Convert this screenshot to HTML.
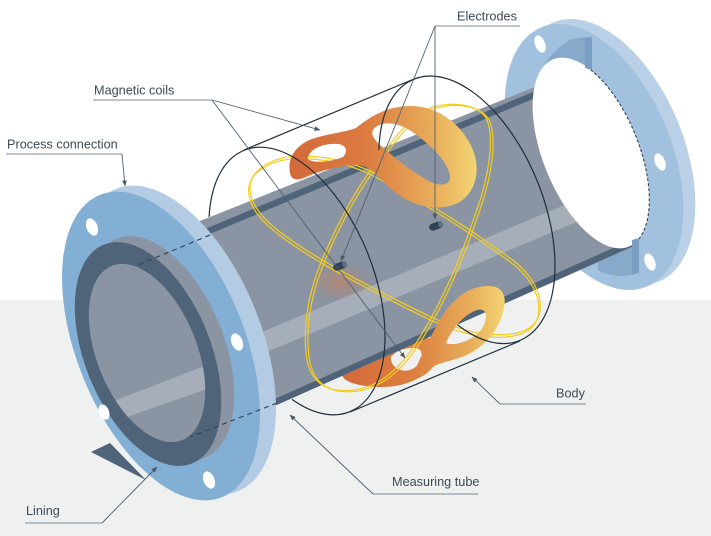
<!DOCTYPE html>
<html>
<head>
<meta charset="utf-8">
<style>
html,body{margin:0;padding:0;background:#fff;}
svg{display:block;}
text{font-family:"Liberation Sans",Arial,sans-serif;font-size:12.7px;fill:#3b4a58;}
</style>
</head>
<body>
<svg width="711" height="536" viewBox="0 0 711 536" xmlns="http://www.w3.org/2000/svg">
<defs>
  <linearGradient id="gU" gradientUnits="userSpaceOnUse" x1="290" y1="0" x2="478" y2="0">
    <stop offset="0" stop-color="#d4693a"/>
    <stop offset="0.4" stop-color="#db7b40"/>
    <stop offset="0.75" stop-color="#e8ab5a"/>
    <stop offset="1" stop-color="#f4d674"/>
  </linearGradient>
  <linearGradient id="gL" gradientUnits="userSpaceOnUse" x1="342" y1="0" x2="506" y2="0">
    <stop offset="0" stop-color="#d4693a"/>
    <stop offset="0.45" stop-color="#dc8040"/>
    <stop offset="0.8" stop-color="#e9b05c"/>
    <stop offset="1" stop-color="#f4d674"/>
  </linearGradient>
  <radialGradient id="glow" cx="0.5" cy="0.5" r="0.5">
    <stop offset="0" stop-color="#d9773f" stop-opacity="0.45"/>
    <stop offset="1" stop-color="#d9773f" stop-opacity="0"/>
  </radialGradient>
  <clipPath id="tubeClip">
    <path d="M120,253 L590,65 L590.6,69.7 A48,101 -22 0 1 639,238.7 L639,244 L180,448 Z"/>
  </clipPath>
  <clipPath id="innerClip">
    <ellipse cx="147" cy="353" rx="50" ry="94" transform="rotate(-22 147 353)"/>
  </clipPath>
  <marker id="ar" markerWidth="7" markerHeight="7" refX="5.5" refY="3" orient="auto" markerUnits="userSpaceOnUse">
    <path d="M0,0.6 L6,3 L0,5.4 Z" fill="#4a5a6a"/>
  </marker>
</defs>

<!-- background -->
<rect x="0" y="0" width="711" height="300" fill="#ffffff"/>
<rect x="0" y="300" width="711" height="236" fill="#eff1f1"/>

<!-- right flange -->
<ellipse cx="606" cy="152" rx="78" ry="140" transform="rotate(-22 606 152)" fill="#b9d0e6"/>
<ellipse cx="594" cy="157" rx="78" ry="140" transform="rotate(-22 594 157)" fill="#a2c1de"/>
<ellipse cx="540" cy="44" rx="5" ry="9" transform="rotate(-22 540 44)" fill="#ffffff"/>
<ellipse cx="660" cy="162" rx="5" ry="9" transform="rotate(-22 660 162)" fill="#ffffff"/>
<ellipse cx="650" cy="262" rx="5" ry="9" transform="rotate(-22 650 262)" fill="#ffffff"/>
<!-- bore surfaces -->
<path d="M530,112 C532,80 548,50 572,39 L586,37 L592,37 L592,72 L530,122 Z" fill="#87a9ca"/>
<path d="M596,238 L639,236 L639,273 C625,278 608,276 598,270 Z" fill="#87a9ca"/>

<!-- lower coil back lobe (behind tube) -->
<path fill="url(#gL)" fill-rule="evenodd" d="M342,372 C350,355 390,338 420,336 C435,336 440,350 433,364 C425,378 405,387 382,387 C360,387 340,382 342,372 Z M391,357 C396,350 410,346 419,349 C425,354 421,366 410,370 C400,373 390,366 391,357 Z"/>

<!-- measuring tube -->
<path d="M120,253 L590,65 L590.6,69.7 A48,101 -22 0 1 639,238.7 L639,244 L180,448 Z" fill="#8a94a3"/>
<g clip-path="url(#tubeClip)">
  <polygon points="150,379 660,165 660,187 150,401" fill="#a6aeb9"/>
  <polygon points="150,252 600,64 600,71 150,259" fill="#4f6478"/>
  <polygon points="150,454.6 650,231.6 650,238.6 150,461.6" fill="#4f6478"/>
  <ellipse cx="340" cy="282" rx="32" ry="20" fill="url(#glow)"/>
</g>
<!-- tube opening at right -->
<ellipse cx="591" cy="153" rx="48" ry="101" transform="rotate(-22 591 153)" fill="#ffffff"/>
<path d="M590.6,69.7 A48,101 -22 0 1 639,238.7" fill="none" stroke="#2f4254" stroke-width="1.1" stroke-dasharray="3,2"/>
<polygon points="585,38 592,37 592,70 585,68" fill="#7a9fc2"/>
<polygon points="632,240 639,238 639,272 632,274" fill="#7a9fc2"/>

<!-- left flange -->
<polygon points="91,452 110,443 146,480" fill="#4f6478"/>
<ellipse cx="177" cy="340" rx="84" ry="163" transform="rotate(-22 177 340)" fill="#b3cbe3"/>
<ellipse cx="161" cy="346" rx="84" ry="163" transform="rotate(-22 161 346)" fill="#84afd4"/>
<ellipse cx="92" cy="227" rx="5.5" ry="9" transform="rotate(-22 92 227)" fill="#ffffff"/>
<ellipse cx="237" cy="342" rx="5.5" ry="9" transform="rotate(-22 237 342)" fill="#ffffff"/>
<ellipse cx="209" cy="480" rx="5.5" ry="9" transform="rotate(-22 209 480)" fill="#ffffff"/>
<!-- lining -->
<ellipse cx="161" cy="348" rx="63" ry="118" transform="rotate(-22 161 348)" fill="#8a94a3"/>
<ellipse cx="148" cy="354" rx="63" ry="118" transform="rotate(-22 148 354)" fill="#4f6478"/>
<ellipse cx="104" cy="412" rx="5" ry="8" transform="rotate(-22 104 412)" fill="#ffffff"/>
<ellipse cx="147" cy="353" rx="50" ry="94" transform="rotate(-22 147 353)" fill="#8a94a3"/>
<g clip-path="url(#innerClip)">
  <polygon points="85,412 215,362 215,386 85,432" fill="#a6aeb9"/>
</g>
<!-- hidden tube edges -->
<line x1="210" y1="235" x2="138" y2="265" stroke="#2f4254" stroke-width="1.1" stroke-dasharray="5,4"/>
<line x1="277" y1="403" x2="190" y2="437" stroke="#2f4254" stroke-width="1.1" stroke-dasharray="5,4"/>

<!-- yellow wire loops -->
<g fill="none" stroke="#f5cc1e" stroke-width="1.2">
  <path d="M250,186 C252,168 275,155 305,156 C335,157 360,165 380,176 C420,198 470,228 515,262 C535,278 545,300 538,318 C530,335 505,337 478,333 C450,328 420,312 385,294 C350,276 310,255 280,232 C262,218 249,203 250,186 Z"/>
  <path transform="translate(-1.4,2.6)" d="M250,186 C252,168 275,155 305,156 C335,157 360,165 380,176 C420,198 470,228 515,262 C535,278 545,300 538,318 C530,335 505,337 478,333 C450,328 420,312 385,294 C350,276 310,255 280,232 C262,218 249,203 250,186 Z"/>
  <path d="M433,107 C455,101 480,105 487,120 C495,140 488,180 475,215 C462,255 443,300 420,337 C405,362 385,385 355,390 C330,393 312,385 307,360 C302,330 308,295 320,265 C335,228 355,190 378,160 C393,140 410,115 433,107 Z"/>
  <path transform="translate(2.7,1.2)" d="M433,107 C455,101 480,105 487,120 C495,140 488,180 475,215 C462,255 443,300 420,337 C405,362 385,385 355,390 C330,393 312,385 307,360 C302,330 308,295 320,265 C335,228 355,190 378,160 C393,140 410,115 433,107 Z"/>
</g>

<!-- upper coil -->
<path fill="url(#gU)" fill-rule="evenodd" d="M290,173 C287,158 296,145 312,139 C326,134 342,133 356,128 C368,118 386,106 410,106 C438,106 462,124 473,150 C483,176 472,204 444,207 C420,210 398,198 382,180 C374,171 368,166 358,165 C342,165 322,170 306,177 C297,181 291,180 290,173 Z M309,155 C313,147 326,143 338,144 C347,145 348,152 343,157 C334,161 319,163 312,161 C307,160 307,158 309,155 Z M373,130 C379,121 396,121 411,131 C430,144 449,162 450,177 C450,187 437,186 427,180 C409,170 389,153 379,144 C373,138 371,134 373,130 Z"/>

<!-- lower coil front lobe -->
<path fill="url(#gL)" fill-rule="evenodd" d="M412,379 C418,362 427,342 440,320 C452,299 468,287 486,286 C501,285 507,294 504,308 C500,328 487,345 467,355 C453,361 440,362 433,367 C428,373 421,379 412,379 Z M446,343 C452,329 463,315 477,310 C486,308 488,315 484,325 C479,336 467,342 455,344 C450,344 447,344 446,343 Z"/>

<!-- electrodes -->
<g transform="translate(436,226) rotate(-20)">
  <rect x="-7" y="-3.6" width="13" height="7.2" rx="3.6" fill="#2f4354"/>
  <ellipse cx="5" cy="0" rx="2.4" ry="3.4" fill="#5d7184"/>
</g>
<g transform="translate(340,266) rotate(-20)">
  <rect x="-7" y="-3.6" width="13" height="7.2" rx="3.6" fill="#2f4354"/>
  <ellipse cx="5" cy="0" rx="2.4" ry="3.4" fill="#5d7184"/>
</g>

<!-- body outline -->
<g fill="none" stroke="#1f2d3a" stroke-width="1.2">
  <path d="M209.1,216.8 A76,141 -22 1 1 292,399.4"/>
  <path d="M378.9,149.9 A76,141 -22 1 1 457.6,324.9"/>
  <line x1="244" y1="150" x2="414" y2="79"/>
  <line x1="350" y1="412" x2="520" y2="341"/>
</g>

<!-- leader lines -->
<g stroke="#7a8896" stroke-width="1" fill="none">
  <line x1="435" y1="26" x2="520" y2="26"/>
  <line x1="93" y1="100" x2="212" y2="100"/>
  <line x1="6" y1="154" x2="122" y2="154"/>
  <line x1="25" y1="523" x2="102" y2="523"/>
  <line x1="373" y1="494" x2="478" y2="494"/>
  <line x1="500" y1="404" x2="586" y2="404"/>
</g>
<g stroke="#4f6072" stroke-width="0.9" fill="none">
  <line x1="435" y1="26" x2="435" y2="219" marker-end="url(#ar)"/>
  <line x1="435" y1="26" x2="341" y2="261" marker-end="url(#ar)"/>
  <line x1="212" y1="100" x2="320" y2="130" marker-end="url(#ar)"/>
  <line x1="212" y1="100" x2="405" y2="358" marker-end="url(#ar)"/>
  <line x1="122" y1="154" x2="125" y2="186" marker-end="url(#ar)"/>
  <line x1="102" y1="523" x2="157" y2="467" marker-end="url(#ar)"/>
  <line x1="373" y1="494" x2="290" y2="415" marker-end="url(#ar)"/>
  <line x1="500" y1="404" x2="472" y2="377" marker-end="url(#ar)"/>
</g>

<!-- labels -->
<text x="457" y="20.5">Electrodes</text>
<text x="94" y="94.5">Magnetic coils</text>
<text x="7" y="148.5">Process connection</text>
<text x="26" y="515">Lining</text>
<text x="392" y="486">Measuring tube</text>
<text x="556" y="397.5">Body</text>
</svg>
</body>
</html>
